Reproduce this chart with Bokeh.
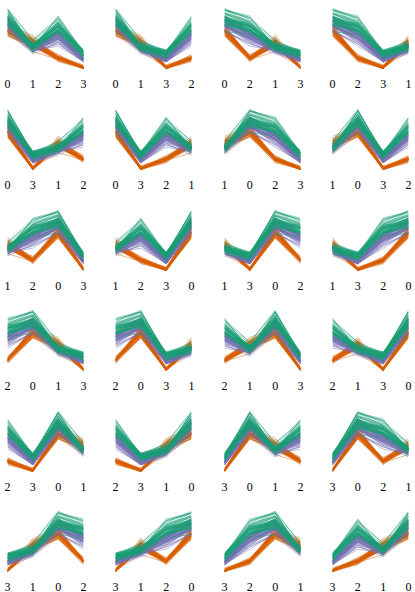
from bokeh.plotting import figure
from bokeh.layouts import gridplot
from bokeh.models import Range1d, FixedTicker
from bokeh.embed import file_html
from bokeh.resources import INLINE

# Fisher's iris data: features 0..3 (sepal length, sepal width, petal length, petal width)
setosa = [
    [5.1,3.5,1.4,0.2],[4.9,3.0,1.4,0.2],[4.7,3.2,1.3,0.2],[4.6,3.1,1.5,0.2],[5.0,3.6,1.4,0.2],
    [5.4,3.9,1.7,0.4],[4.6,3.4,1.4,0.3],[5.0,3.4,1.5,0.2],[4.4,2.9,1.4,0.2],[4.9,3.1,1.5,0.1],
    [5.4,3.7,1.5,0.2],[4.8,3.4,1.6,0.2],[4.8,3.0,1.4,0.1],[4.3,3.0,1.1,0.1],[5.8,4.0,1.2,0.2],
    [5.7,4.4,1.5,0.4],[5.4,3.9,1.3,0.4],[5.1,3.5,1.4,0.3],[5.7,3.8,1.7,0.3],[5.1,3.8,1.5,0.3],
    [5.4,3.4,1.7,0.2],[5.1,3.7,1.5,0.4],[4.6,3.6,1.0,0.2],[5.1,3.3,1.7,0.5],[4.8,3.4,1.9,0.2],
    [5.0,3.0,1.6,0.2],[5.0,3.4,1.6,0.4],[5.2,3.5,1.5,0.2],[5.2,3.4,1.4,0.2],[4.7,3.2,1.6,0.2],
    [4.8,3.1,1.6,0.2],[5.4,3.4,1.5,0.4],[5.2,4.1,1.5,0.1],[5.5,4.2,1.4,0.2],[4.9,3.1,1.5,0.2],
    [5.0,3.2,1.2,0.2],[5.5,3.5,1.3,0.2],[4.9,3.6,1.4,0.1],[4.4,3.0,1.3,0.2],[5.1,3.4,1.5,0.2],
    [5.0,3.5,1.3,0.3],[4.5,2.3,1.3,0.3],[4.4,3.2,1.3,0.2],[5.0,3.5,1.6,0.6],[5.1,3.8,1.9,0.4],
    [4.8,3.0,1.4,0.3],[5.1,3.8,1.6,0.2],[4.6,3.2,1.4,0.2],[5.3,3.7,1.5,0.2],[5.0,3.3,1.4,0.2],
]
versicolor = [
    [7.0,3.2,4.7,1.4],[6.4,3.2,4.5,1.5],[6.9,3.1,4.9,1.5],[5.5,2.3,4.0,1.3],[6.5,2.8,4.6,1.5],
    [5.7,2.8,4.5,1.3],[6.3,3.3,4.7,1.6],[4.9,2.4,3.3,1.0],[6.6,2.9,4.6,1.3],[5.2,2.7,3.9,1.4],
    [5.0,2.0,3.5,1.0],[5.9,3.0,4.2,1.5],[6.0,2.2,4.0,1.0],[6.1,2.9,4.7,1.4],[5.6,2.9,3.6,1.3],
    [6.7,3.1,4.4,1.4],[5.6,3.0,4.5,1.5],[5.8,2.7,4.1,1.0],[6.2,2.2,4.5,1.5],[5.6,2.5,3.9,1.1],
    [5.9,3.2,4.8,1.8],[6.1,2.8,4.0,1.3],[6.3,2.5,4.9,1.5],[6.1,2.8,4.7,1.2],[6.4,2.9,4.3,1.3],
    [6.6,3.0,4.4,1.4],[6.8,2.8,4.8,1.4],[6.7,3.0,5.0,1.7],[6.0,2.9,4.5,1.5],[5.7,2.6,3.5,1.0],
    [5.5,2.4,3.8,1.1],[5.5,2.4,3.7,1.0],[5.8,2.7,3.9,1.2],[6.0,2.7,5.1,1.6],[5.4,3.0,4.5,1.5],
    [6.0,3.4,4.5,1.6],[6.7,3.1,4.7,1.5],[6.3,2.3,4.4,1.3],[5.6,3.0,4.1,1.3],[5.5,2.5,4.0,1.3],
    [5.5,2.6,4.4,1.2],[6.1,3.0,4.6,1.4],[5.8,2.6,4.0,1.2],[5.0,2.3,3.3,1.0],[5.6,2.7,4.2,1.3],
    [5.7,3.0,4.2,1.2],[5.7,2.9,4.2,1.3],[6.2,2.9,4.3,1.3],[5.1,2.5,3.0,1.1],[5.7,2.8,4.1,1.3],
]
virginica = [
    [6.3,3.3,6.0,2.5],[5.8,2.7,5.1,1.9],[7.1,3.0,5.9,2.1],[6.3,2.9,5.6,1.8],[6.5,3.0,5.8,2.2],
    [7.6,3.0,6.6,2.1],[4.9,2.5,4.5,1.7],[7.3,2.9,6.3,1.8],[6.7,2.5,5.8,1.8],[7.2,3.6,6.1,2.5],
    [6.5,3.2,5.1,2.0],[6.4,2.7,5.3,1.9],[6.8,3.0,5.5,2.1],[5.7,2.5,5.0,2.0],[5.8,2.8,5.1,2.4],
    [6.4,3.2,5.3,2.3],[6.5,3.0,5.5,1.8],[7.7,3.8,6.7,2.2],[7.7,2.6,6.9,2.3],[6.0,2.2,5.0,1.5],
    [6.9,3.2,5.7,2.3],[5.6,2.8,4.9,2.0],[7.7,2.8,6.7,2.0],[6.3,2.7,4.9,1.8],[6.7,3.3,5.7,2.1],
    [7.2,3.2,6.0,1.8],[6.2,2.8,4.8,1.8],[6.1,3.0,4.9,1.8],[6.4,2.8,5.6,2.1],[7.2,3.0,5.8,1.6],
    [7.4,2.8,6.1,1.9],[7.9,3.8,6.4,2.0],[6.4,2.8,5.6,2.2],[6.3,2.8,5.1,1.5],[6.1,2.6,5.6,1.4],
    [7.7,3.0,6.1,2.3],[6.3,3.4,5.6,2.4],[6.4,3.1,5.5,1.8],[6.0,3.0,4.8,1.8],[6.9,3.1,5.4,2.1],
    [6.7,3.1,5.6,2.4],[6.9,3.1,5.1,2.3],[5.8,2.7,5.1,1.9],[6.8,3.2,5.9,2.3],[6.7,3.3,5.7,2.5],
    [6.7,3.0,5.2,2.3],[6.3,2.5,5.0,1.9],[6.5,3.0,5.2,2.0],[6.2,3.4,5.4,2.3],[5.9,3.0,5.1,1.8],
]

# Axis orders of the 24 panels (tick labels)
orders = [
    (0,1,2,3),(0,1,3,2),(0,2,1,3),(0,2,3,1),
    (0,3,1,2),(0,3,2,1),(1,0,2,3),(1,0,3,2),
    (1,2,0,3),(1,2,3,0),(1,3,0,2),(1,3,2,0),
    (2,0,1,3),(2,0,3,1),(2,1,0,3),(2,1,3,0),
    (2,3,0,1),(2,3,1,0),(3,0,1,2),(3,0,2,1),
    (3,1,0,2),(3,1,2,0),(3,2,0,1),(3,2,1,0),
]

# draw order and colours
groups = [
    (setosa, "#d95f02"),
    (versicolor, "#7570b3"),
    (virginica, "#1b9e77"),
]

NCOLS = 4
FRAME_W = 76
FRAME_H = 62
TOP = 7
LEFT = 7
col_widths = [108, 109, 108, 88]
row_heights = [101, 101, 100, 101, 100, 89]

figs = []
for i, order in enumerate(orders):
    r, c = divmod(i, NCOLS)
    right = col_widths[c] - LEFT - FRAME_W
    bottom = row_heights[r] - FRAME_H - TOP
    p = figure(frame_width=FRAME_W, frame_height=FRAME_H,
               x_range=Range1d(0, 3), y_range=Range1d(0, 8),
               output_backend="svg", toolbar_location=None,
               min_border_left=LEFT, min_border_right=right,
               min_border_top=TOP, min_border_bottom=bottom,
               background_fill_color="white", border_fill_color="white",
               outline_line_color=None)
    xs_pos = list(range(4))
    for rows, color in groups:
        xs = [xs_pos for _ in rows]
        ys = [[row[k] for k in order] for row in rows]
        p.multi_line(xs=xs, ys=ys, line_color=color, line_width=0.8, line_alpha=0.6)
    p.yaxis.visible = False
    p.grid.visible = False
    ax = p.xaxis[0]
    ax.ticker = FixedTicker(ticks=[0, 1, 2, 3])
    ax.major_label_overrides = {k: str(order[k]) for k in range(4)}
    ax.axis_line_color = None
    ax.major_tick_line_color = None
    ax.minor_tick_line_color = None
    ax.major_tick_out = 0
    ax.major_tick_in = 0
    ax.major_label_standoff = 10
    ax.major_label_text_font = "Liberation Serif"
    ax.major_label_text_font_size = "12px"
    ax.major_label_text_color = "black"
    figs.append(p)

grid = gridplot(figs, ncols=NCOLS, toolbar_location=None)

open("out.html", "w").write(file_html(grid, INLINE))
